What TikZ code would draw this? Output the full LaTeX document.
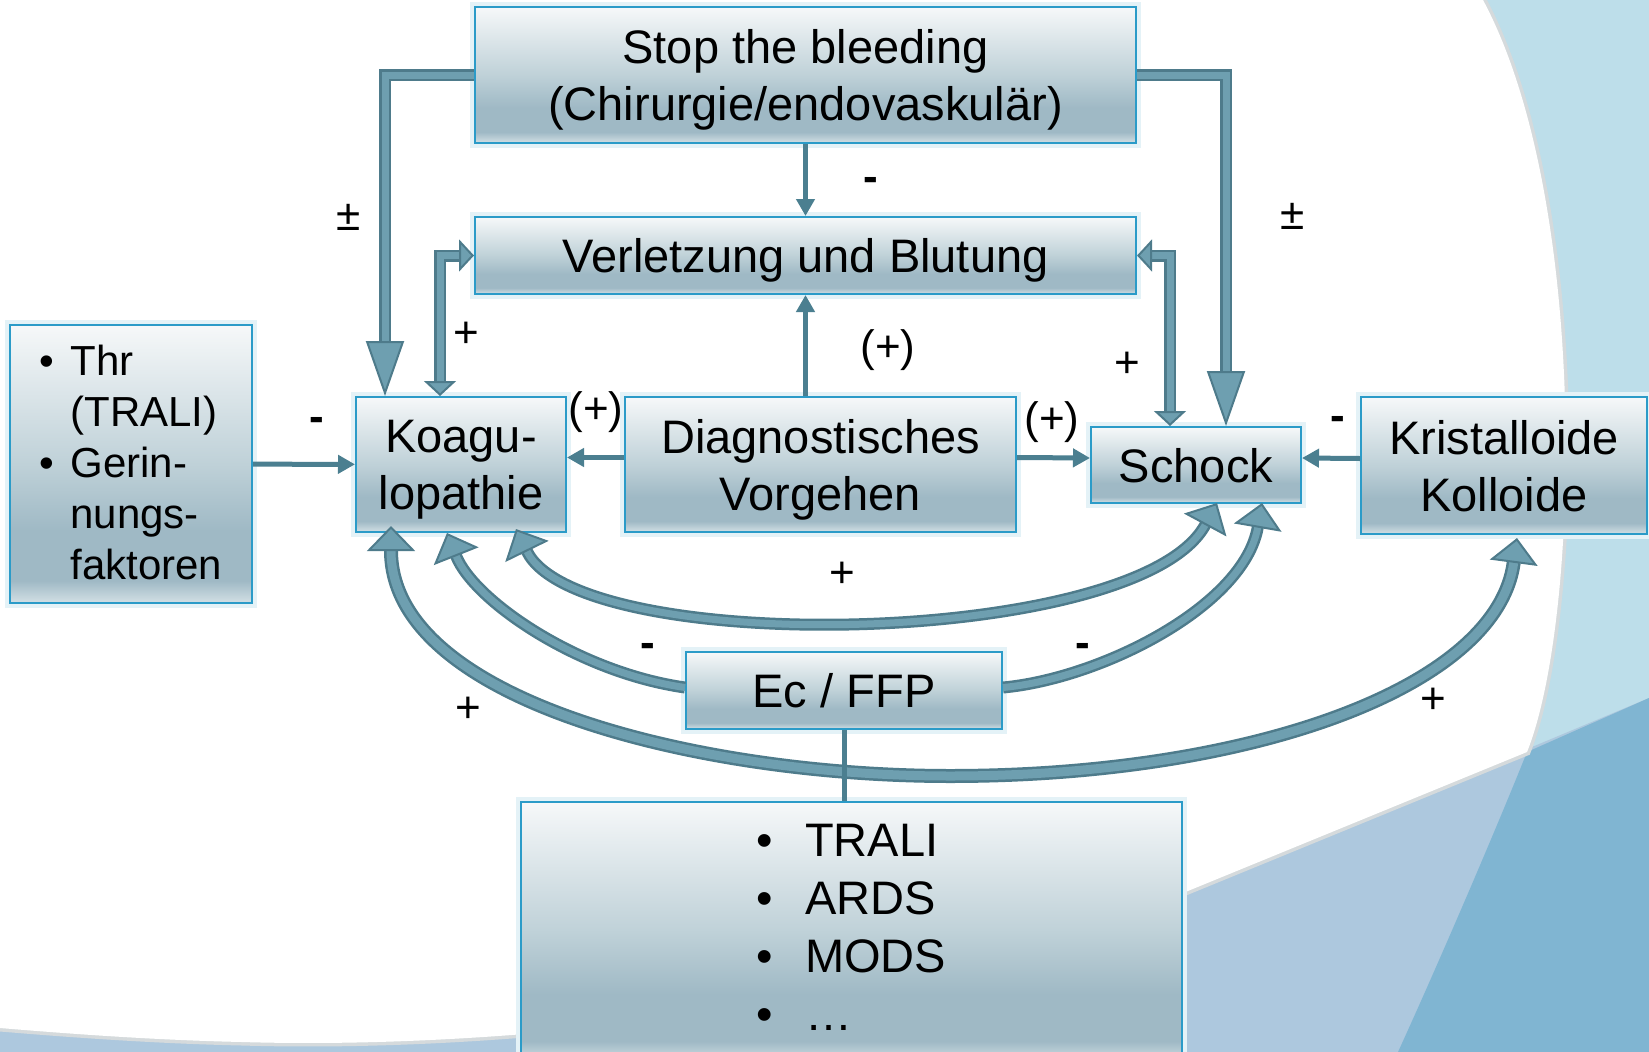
\documentclass[tikz,border=0pt]{standalone}
\usepackage{fontspec}
\setmainfont{Liberation Sans}
\usetikzlibrary{arrows.meta,positioning,calc}

\definecolor{bgblue}{HTML}{BDDEEA}
\definecolor{bandblue}{HTML}{ADC8DE}
\definecolor{deepblue}{HTML}{80B5D2}
\definecolor{edgegray}{HTML}{D5DADC}
\definecolor{boxline}{HTML}{2B9BC8}
\definecolor{boxtop}{HTML}{F6F8F9}
\definecolor{boxmid}{HTML}{BFD1D8}
\definecolor{boxdark}{HTML}{9FB9C5}
\definecolor{boxlow}{HTML}{D3E0E5}
\definecolor{boxglow}{HTML}{E4F2F7}
\definecolor{arrdark}{HTML}{4E7B8B}
\definecolor{arrlight}{HTML}{6E9FB0}
\definecolor{thinarr}{HTML}{4B7F90}

\pgfdeclareverticalshading{boxshade}{100bp}{color(0bp)=(boxlow); color(25bp)=(boxlow); color(29bp)=(boxdark); color(38bp)=(boxdark); color(50bp)=(boxmid); color(75bp)=(boxtop); color(100bp)=(boxtop)}

\tikzset{
    listbox/.style={draw=boxline, line width=2pt, shade, shading=boxshade, inner sep=0pt,
        align=center, font=\fontsize{47}{57}\selectfont,
        preaction={draw=boxglow, line width=10pt}},
    box/.style={listbox, text depth=0pt},
    lab/.style={inner sep=0pt, font=\fontsize{44}{44}\selectfont},
    minuslab/.style={lab, font=\fontsize{44}{44}\selectfont\bfseries},
    flow/.style={draw=thinarr, line width=5pt, -{Triangle[length=17pt,width=18pt]}},
    bigflow/.style={draw=arrdark, double=arrlight, line width=2.5pt, double distance=7pt},
    bigtip/.style={-{Triangle[length=55pt,width=38pt,fill=arrlight,line width=2pt]}},
    smalltips/.style={{Triangle[length=15pt,width=32pt,fill=arrlight,line width=2pt]}-{Triangle[length=15pt,width=32pt,fill=arrlight,line width=2pt]}},
    arctip/.style={-{Triangle[length=25pt,width=48pt,fill=arrlight,line width=2pt]}},
    arctips/.style={{Triangle[length=25pt,width=48pt,fill=arrlight,line width=2pt]}-{Triangle[length=25pt,width=48pt,fill=arrlight,line width=2pt]}}
}

\begin{document}
\begin{tikzpicture}[x=1pt, y=-1pt]
        \useasboundingbox (0,0) rectangle (1649,1052);

        % Hintergrund
        \fill [bgblue] (0,0) rectangle (1649,1052);
        \fill [bandblue] (0,1000) -- (1183,893) -- (1649,698) -- (1649,1052) -- (0,1052) -- cycle;
        \fill [deepblue] (1527,752) -- (1649,698) -- (1649,1052) -- (1398,1052)
            .. controls (1440,960) and (1497,827) .. (1527,752);
        \fill [white, preaction={draw=edgegray, line width=7pt}] (0,0) -- (1483,0)
            .. controls (1590,200) and (1580,620) .. (1527,752) -- (1183,893)
            .. controls (900,1010) and (500,1050) .. (242,1042)
            .. controls (150,1040) and (60,1033) .. (0,1028) -- cycle;

        % Kaesten
        \node [box, minimum width=661pt, minimum height=136pt] (stop) at (805.5,75) {Stop the bleeding\\(Chirurgie/endovaskulär)};
        \node [box, minimum width=661pt, minimum height=77pt] (verl) at (805.5,255.5) {Verletzung und Blutung};
        \node [listbox, minimum width=242pt, minimum height=278pt, font=\fontsize{42}{51}\selectfont] (thr) at (131,464)
            {\raisebox{-3pt}[\height][\depth]{\begin{tabular}{@{}l@{\hspace{16pt}}l@{}}\textbullet & Thr\\ & (TRALI)\\ \textbullet & Gerin-\\ & nungs-\\ & faktoren\end{tabular}}};
        \node [box, minimum width=210pt, minimum height=135pt] (koag) at (461,464.5) {Koagu-\\lopathie};
        \node [box, minimum width=391pt, minimum height=135pt] (diag) at (820.5,464.5) {Diagnostisches\\Vorgehen};
        \node [box, minimum width=210pt, minimum height=76pt] (schock) at (1196,465) {Schock};
        \node [box, minimum width=286pt, minimum height=137pt] (krist) at (1504,465.5) {Kristalloide\\Kolloide};
        \node [listbox, minimum width=316pt, minimum height=77pt] (ecffp) at (844,690.5) {Ec / FFP};
        \node [listbox, minimum width=661pt, minimum height=260pt, font=\fontsize{47}{58}\selectfont] (folgen) at (851.5,932)
            {\begin{tabular}{@{}l@{\hspace{32pt}}l@{}}\textbullet & TRALI\\ \textbullet & ARDS\\ \textbullet & MODS\\ \textbullet & …\end{tabular}};

        % dicke Pfeile
        \draw [bigflow, bigtip] (stop.west) -| ([xshift=30pt]koag.north west);
        \draw [bigflow, smalltips] (verl.west) -| ([xshift=85pt]koag.north west);
        \draw [bigflow, bigtip] (stop.east) -| ([xshift=136pt]schock.north west);
        \draw [bigflow, smalltips] (verl.east) -| ([xshift=80pt]schock.north west);

        % Boegen
        \coordinate (bogen) at (950,776);
        \draw [bigflow, double distance=9pt, arctips] ([xshift=36pt,yshift=7pt]koag.south west)
            .. controls +(0,175) and (700,776) .. (bogen)
            .. controls (1250,776) and +(-20,150) .. ([xshift=157pt,yshift=-3pt]krist.south west);
        \draw [bigflow, arctips] ([xshift=161pt,yshift=4pt]koag.south west)
            .. controls +(63,129) and +(-78,145) .. ([xshift=127pt,yshift=1pt]schock.south west);
        \draw [bigflow, arctip] ([yshift=3pt]ecffp.west)
            .. controls +(-106,-15) and +(27,68) .. ([xshift=92pt]koag.south west);
        \draw [bigflow, arctip] ([yshift=3pt]ecffp.east)
            .. controls +(98,-9) and +(-18,103) .. ([xshift=172pt,yshift=1pt]schock.south west);

        % duenne Pfeile
        \draw [flow] (stop) -- (verl);
        \draw [flow] (diag.north -| verl.south) -- (verl.south);
        \draw [flow] (thr) -- (koag);
        \draw [flow] ([yshift=7pt]diag.west) -- ([yshift=7pt]koag.east);
        \draw [flow] ([yshift=7pt]diag.east) -- ([yshift=7pt]schock.west);
        \draw [flow] ([yshift=7pt]krist.west) -- ([yshift=7pt]schock.east);
        \draw [draw=thinarr, line width=5pt] (ecffp.south) -- (ecffp.south |- folgen.north);

        % Vorzeichen
        \node [lab] (pmkoag) at (349,217) {±};
        \node [lab] (pmschock) at (1293,216) {±};
        \node [minuslab] (minusverl) at (871,184) {-};
        \node [lab] (plusleft) at (466,335) {+};
        \node [lab] (plusdiag) at (888,350) {(+)};
        \node [lab] (plusright) at (1127,365) {+};
        \node [lab] (pluskoag) at (596,412) {(+)};
        \node [lab] (plusschock) at (1052,422) {(+)};
        \node [minuslab] (minusthr) at (317,424) {-};
        \node [minuslab] (minuskrist) at (1338,423) {-};
        \node [lab] (plusarc) at (842,575) {+};
        \node [minuslab] (minusecl) at (648,650) {-};
        \node [minuslab] (minusecr) at (1083,650) {-};
        \node [lab] (plusouterl) at (468,710) {+};
        \node [lab] (plusouterr) at (1433,701) {+};
    \end{tikzpicture}
\end{document}
